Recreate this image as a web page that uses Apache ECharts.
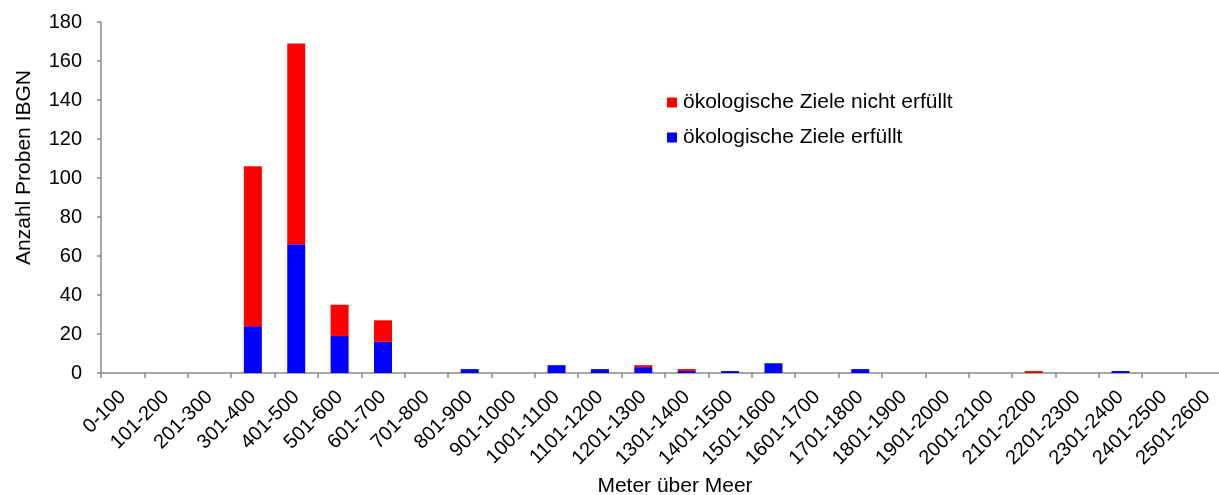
<!DOCTYPE html>
<html>
<head>
<meta charset="utf-8">
<script src="https://cdn.jsdelivr.net/npm/echarts@6/dist/echarts.min.js"></script>
<style>html,body{margin:0;padding:0;background:#fff;overflow:hidden}#c{width:1219px;height:495px}</style>
</head>
<body>
<div id="c"></div>
<script>
const categories = ['0-100','101-200','201-300','301-400','401-500','501-600','601-700','701-800','801-900','901-1000','1001-1100','1101-1200','1201-1300','1301-1400','1401-1500','1501-1600','1601-1700','1701-1800','1801-1900','1901-2000','2001-2100','2101-2200','2201-2300','2301-2400','2401-2500','2501-2600'];
const erfuellt      = [0,0,0,24,66,19,16,0,2,0,4,2,3,1,1,5,0,2,0,0,0,0,0,1,0,0];
const nichtErfuellt = [0,0,0,82,103,16,11,0,0,0,0,0,1,1,0,0,0,0,0,0,0,1,0,0,0,0];
const yTicks = {min:0, max:180, interval:20};
const nameRed = 'ökologische Ziele nicht erfüllt';
const nameBlue = 'ökologische Ziele erfüllt';

const font = 'Liberation Sans, Arial, sans-serif';
const chart = echarts.init(document.getElementById('c'), null, {renderer:'canvas'});
chart.setOption({
  animation:false,
  backgroundColor:'#ffffff',
  textStyle:{fontFamily:font, color:'#000'},
  grid:{left:101, top:22, width:1128, height:351, containLabel:false, outerBoundsMode:'none'},
  legend:{
    orient:'vertical', left:667, top:92, padding:0,
    itemWidth:10, itemHeight:10, itemGap:14,
    icon:'rect',
    textStyle:{fontFamily:font, fontSize:21, color:'#000', padding:[0,0,0,1]},
    data:[nameRed, nameBlue]
  },
  xAxis:{
    type:'category', data:categories, boundaryGap:true,
    name:'Meter über Meer', nameLocation:'middle', nameGap:103,
    nameTextStyle:{fontFamily:font, fontSize:21, color:'#000', padding:[0,0,0,20]},
    axisLine:{lineStyle:{color:'#888888', width:1.5}},
    axisTick:{show:true, alignWithLabel:false, interval:0, length:5, lineStyle:{color:'#888888', width:1.5}},
    axisLabel:{interval:0, rotate:45, margin:21, fontFamily:font, fontSize:20, color:'#000'},
    splitLine:{show:false}
  },
  yAxis:{
    type:'value', min:yTicks.min, max:yTicks.max, interval:yTicks.interval,
    name:'Anzahl Proben IBGN', nameLocation:'middle', nameGap:66, nameRotate:90,
    nameTextStyle:{fontFamily:font, fontSize:21, color:'#000', padding:[0,0,0,60]},
    axisLine:{show:true, lineStyle:{color:'#888888', width:1.5}},
    axisTick:{show:true, length:4, lineStyle:{color:'#888888', width:1.5}},
    axisLabel:{margin:19, fontFamily:font, fontSize:20, color:'#000'},
    splitLine:{show:false}
  },
  series:[
    {name:nameBlue, type:'bar', stack:'a', data:erfuellt, barWidth:18, itemStyle:{color:'#0000FF'}},
    {name:nameRed, type:'bar', stack:'a', data:nichtErfuellt, barWidth:18, itemStyle:{color:'#FF0000'}}
  ]
});
</script>
</body>
</html>
